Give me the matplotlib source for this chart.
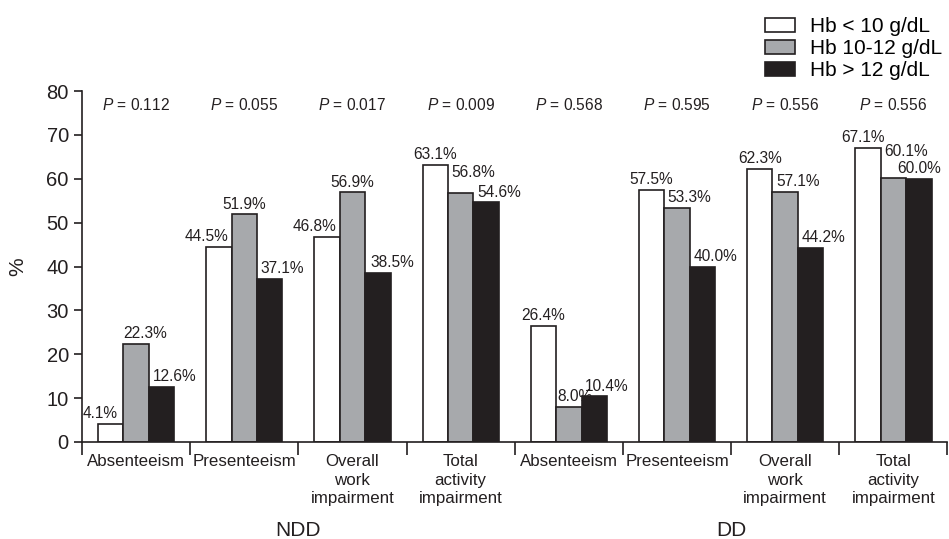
import numpy as np
import matplotlib.pyplot as plt

plt.rcParams['font.family'] = ['Liberation Sans', 'DejaVu Sans']
plt.rcParams['mathtext.fontset'] = 'custom'
plt.rcParams['mathtext.rm'] = 'Liberation Sans'
plt.rcParams['mathtext.it'] = 'Liberation Sans:italic'

categories = ["Absenteeism", "Presenteeism", "Overall\nwork\nimpairment",
              "Total\nactivity\nimpairment"] * 2
groups = ["NDD", "DD"]
series = ["Hb < 10 g/dL", "Hb 10-12 g/dL", "Hb > 12 g/dL"]
hb_low = [4.1, 44.5, 46.8, 63.1, 26.4, 57.5, 62.3, 67.1]
hb_mid = [22.3, 51.9, 56.9, 56.8, 8.0, 53.3, 57.1, 60.1]
hb_high = [12.6, 37.1, 38.5, 54.6, 10.4, 40.0, 44.2, 60.0]
p_values = ["0.112", "0.055", "0.017", "0.009", "0.568", "0.595", "0.556", "0.556"]

colors = ["#ffffff", "#a7a9ac", "#231f20"]
# label nudges so neighbouring value labels don't collide
# dx in bar widths, dy in points
label_dx = [
    [-0.4, -0.5, -0.5, 0.0, 0.0, 0.0, 0.0, -0.2],
    [0.35, 0.0, 0.0, 0.5, 0.25, 0.5, 0.5, 0.5],
    [0.5, 0.5, 0.55, 0.5, 0.5, 0.5, 0.5, 0.0],
]
label_dy = [
    [0] * 8,
    [0, 0, 0, 7, 0, 0, 0, 12],
    [0] * 8,
]

fig = plt.figure(figsize=(9.49, 5.39), dpi=100)
ax = fig.add_axes([0.0864, 0.18, 0.912, 0.651])

x = np.arange(len(categories))
width = 0.235
for i, (vals, color, name) in enumerate(zip([hb_low, hb_mid, hb_high], colors, series)):
    pos = x + (i - 1) * width
    ax.bar(pos, vals, width, color=color, edgecolor="#231f20", linewidth=1.2, label=name)
    for j, (px_, v) in enumerate(zip(pos, vals)):
        ax.annotate(f"{v:.1f}%", (px_ + label_dx[i][j] * width, v),
                    xytext=(0, 2 + label_dy[i][j]), textcoords="offset points",
                    ha="center", va="bottom", fontsize=11.2, color="#231f20")

for xi, p in zip(x, p_values):
    ax.text(xi, 76.8, f"$\\it{{P}}$ = {p}", ha="center", va="center", fontsize=11.2,
            color="#231f20")

ax.set_xlim(-0.5, len(categories) - 0.5)
ax.set_ylim(0, 80)
ax.set_yticks(range(0, 81, 10))
ax.tick_params(axis="y", labelsize=14.5, length=6, width=1.2, colors="#231f20")
ax.set_xticks(np.arange(-0.5, len(categories), 1.0))
ax.set_xticklabels([])
ax.tick_params(axis="x", length=9, width=1.2, colors="#231f20")
for side in ["top", "right"]:
    ax.spines[side].set_visible(False)
for side in ["left", "bottom"]:
    ax.spines[side].set_linewidth(1.2)
    ax.spines[side].set_color("#231f20")
ax.set_ylabel("%", fontsize=15, color="#231f20", labelpad=14)

trans = ax.get_xaxis_transform()
for xi, cat in zip(x, categories):
    ax.text(xi, -0.033, cat, transform=trans, ha="center", va="top", fontsize=12.2,
            linespacing=1.33, color="#231f20")
for gi, g in enumerate(groups):
    ax.text(gi * 4 + 1.5, -0.225, g, transform=trans, ha="center", va="top", fontsize=15,
            color="#231f20")

ax.legend(loc="upper left", bbox_to_anchor=(0.78, 1.235), frameon=False, fontsize=15,
          handlelength=1.4, handleheight=0.65, handletextpad=0.75, labelspacing=0.15,
          borderaxespad=0)

fig.savefig("out.png", dpi=100)
